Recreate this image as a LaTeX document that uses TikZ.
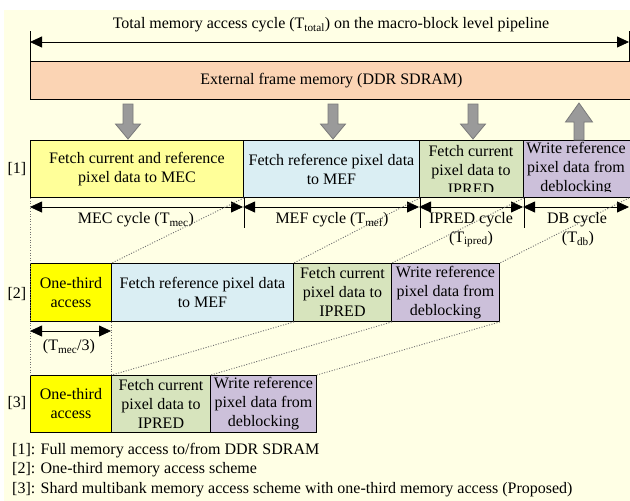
\documentclass[tikz,border=0pt]{standalone}
\usepackage{fontspec}
\setmainfont{Liberation Serif}
\usetikzlibrary{arrows.meta}
\definecolor{bgc}{HTML}{FFFFE5}
\definecolor{ddrc}{HTML}{FBD4B4}
\definecolor{ylwa}{HTML}{FFFF99}
\definecolor{ylwb}{HTML}{FFFF00}
\definecolor{bluec}{HTML}{DAEEF3}
\definecolor{grnc}{HTML}{D7E4BD}
\definecolor{purc}{HTML}{CCC0DA}
\definecolor{grayar}{HTML}{9A9A9A}
\definecolor{grayard}{HTML}{7A7A7A}
\definecolor{dotc}{HTML}{707070}
\begin{document}
\begin{tikzpicture}[x=1pt,y=-1pt,
  fnt/.style={font=\fontsize{16}{19}\selectfont},
  boxs/.style={draw=black, line width=0.9pt, inner sep=0pt, align=center, fnt, anchor=north west},
  txt/.style={inner sep=0pt, align=center, fnt},
  dimar/.style={line width=0.8pt, {Triangle[length=12pt,width=11pt]}-{Triangle[length=12pt,width=11pt]}},
  tick/.style={line width=0.8pt},
  dots/.style={draw=dotc, line width=0.9pt, dash pattern=on 1pt off 1.6pt},
  gar/.style={fill=grayar, draw=grayard, line width=0.8pt}
]
\useasboundingbox (0,0) rectangle (630,501);
\fill[bgc] (4,10) rectangle (630,501);

% title and total arrow
\node[txt] (title) at (331,25) {Total memory access cycle (T\textsubscript{total}) on the macro-block level pipeline};
\coordinate (tl) at (30,42);
\coordinate (tr) at (629,42);
\draw[tick] (30,31) -- (30,61);
\draw[tick] (629,31) -- (629,61);
\draw[dimar] (tl) -- (tr);

% DDR
\node[boxs, fill=ddrc, minimum width=602pt, minimum height=38pt] (ddr) at (30,61) {External frame memory (DDR SDRAM)};

% row 1
\node[boxs, fill=ylwa, minimum width=213pt, minimum height=57pt] (a1) at (30,140) {Fetch current and reference\\pixel data to MEC};
\node[boxs, fill=bluec, minimum width=176pt, minimum height=57pt] (b1) at (243,140) {Fetch reference pixel data\\to MEF};
\node[boxs, fill=grnc, minimum width=104pt, minimum height=57pt] (g1) at (419,140) {};
\node[boxs, fill=purc, minimum width=108pt, minimum height=57pt] (p1) at (523,140) {};
\begin{scope}
\clip (419,141) rectangle (631,191);
\node[txt] (g1t) at (471,170) {Fetch current\\pixel data to\\IPRED};
\node[txt] (p1t) at (576,169) {Write reference\\pixel data from\\deblocking};
\end{scope}
\draw[line width=0.9pt] (g1.north west) rectangle (g1.south east);
\draw[line width=0.9pt] (p1.north west) rectangle (p1.south east);
\node[txt] (l1) at (17,169) {[1]};

% gray arrows
\foreach \cx/\nm in {128/d1,333/d2,473/d3}{
  \draw[gar] (\cx-5,104) -- (\cx+5,104) -- (\cx+5,124) -- (\cx+12.5,124) -- (\cx,139) -- (\cx-12.5,124) -- (\cx-5,124) -- cycle;
}
\draw[gar] (574,140) -- (584,140) -- (584,122) -- (592.5,122) -- (579,103) -- (565.5,122) -- (574,122) -- cycle;

% cycle dimension lines
\coordinate (c0) at (30,207);
\coordinate (c1) at (243,207);
\coordinate (c2) at (419,207);
\coordinate (c3) at (523,207);
\coordinate (c4) at (629,207);
\draw[tick] (a1.south east) -- ++(0,30);
\draw[tick] (b1.south east) -- ++(0,30);
\draw[tick] (g1.south east) -- ++(0,30);
\draw[dimar] (c0) -- (c1);
\draw[dimar] (c1) -- (c2);
\draw[dimar] (c2) -- (c3);
\draw[dimar] (c3) -- (c4);
\node[txt] (mec) at (136,220) {MEC cycle (T\textsubscript{mec})};
\node[txt] (mef) at (332,220) {MEF cycle (T\textsubscript{mef})};
\node[txt] (ipr) at (471,220) {IPRED cycle};
\node[txt] (iprt) at (471,239) {(T\textsubscript{ipred})};
\node[txt] (dbc) at (577,220) {DB cycle};
\node[txt] (dbt) at (578,239) {(T\textsubscript{db})};

% row 2
\node[boxs, fill=ylwb, minimum width=81pt, minimum height=58pt] (a2) at (30,263) {One-third\\access};
\node[boxs, fill=bluec, minimum width=182pt, minimum height=58pt] (b2) at (111,263) {Fetch reference pixel data\\to MEF};
\node[boxs, fill=grnc, minimum width=98pt, minimum height=58pt] (g2) at (293,263) {Fetch current\\pixel data to\\IPRED};
\node[boxs, fill=purc, minimum width=108pt, minimum height=58pt] (p2) at (391,263) {Write reference\\pixel data from\\deblocking};
\node[txt] (l2) at (17,294) {[2]};

\coordinate (t0) at (30,331);
\coordinate (t1) at (111,331);
\draw[dimar] (t0) -- (t1);
\node[txt] (tm3) at (69,347) {(T\textsubscript{mec}/3)};

% row 3
\node[boxs, fill=ylwb, minimum width=81pt, minimum height=57pt] (a3) at (30,375) {One-third\\access};
\node[boxs, fill=grnc, minimum width=99pt, minimum height=57pt] (g3) at (111,375) {Fetch current\\pixel data to\\IPRED};
\node[boxs, fill=purc, minimum width=106pt, minimum height=57pt] (p3) at (210,375) {Write reference\\pixel data from\\deblocking};
\node[txt] (l3) at (17,403) {[3]};

% dotted guides
\draw[dots] (a1.south west) -- (a3.north west);
\draw[dots] (a2.south east) -- (a3.north east);
\draw[dots] (a1.south east) -- (a2.north east);
\draw[dots] (b1.south east) -- (b2.north east);
\draw[dots] (g1.south east) -- (g2.north east);
\draw[dots] (c4 |- p1.south) -- (p2.north east);
\draw[dots] (b2.south east) -- (a3.north east);
\draw[dots] (g2.south east) -- (g3.north east);
\draw[dots] (p2.south east) -- (p3.north east);

% legend
\node[txt, anchor=west] (lg1) at (12,451) {[1]: Full memory access to/from DDR SDRAM};
\node[txt, anchor=west] (lg2) at (12,470) {[2]: One-third memory access scheme};
\node[txt, anchor=west] (lg3) at (12,490) {[3]: Shard multibank memory access scheme with one-third memory access (Proposed)};
\end{tikzpicture}
\end{document}
